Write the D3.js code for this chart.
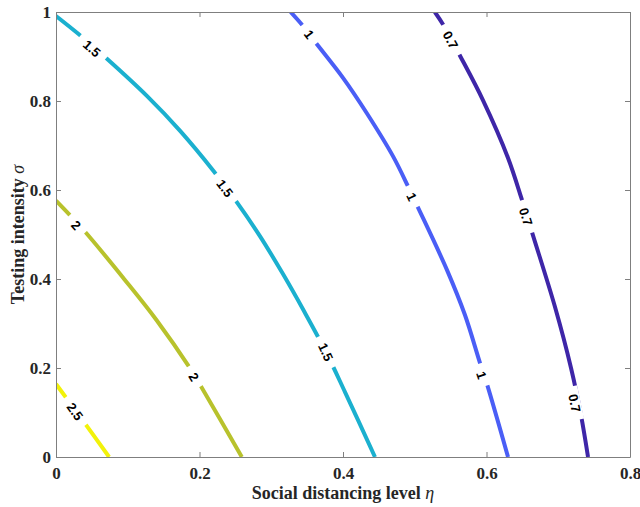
<!DOCTYPE html>
<meta charset="utf-8">
<head>
<style>
  body { margin: 0; background: white; }
  .tick text { font-family: "Liberation Serif", "Times New Roman", serif; font-weight: bold; font-size: 17px; fill: #262626; }
  .axis path, .axis line { stroke: #7f7f7f; }
  .clabel { font-family: "Liberation Sans", Arial, sans-serif; font-weight: bold; font-size: 13px; fill: #000; }
  .axlabel { font-family: "Liberation Serif", "Times New Roman", serif; font-weight: bold; font-size: 18px; fill: #262626; }
</style>
<script src="https://cdn.jsdelivr.net/npm/d3@7"></script>
</head>
<body>
<svg id="chart"></svg>
<script>

// contour levels and their colours (parula-like)
let levels = ["0.7", "1", "1.5", "2", "2.5"]
let colors = ["#3e26a8", "#4a5ef6", "#1bb0cf", "#b8c22c", "#f2f20a"]

// [eta, sigma] points
let contour07 = [[0.528, 1.0], [0.539, 0.973], [0.564, 0.899], [0.595, 0.802], [0.630, 0.672],
                 [0.649, 0.580], [0.665, 0.497], [0.6955, 0.337], [0.7178, 0.200], [0.7317, 0.094], [0.7415, 0]]
let contour10 = [[0.327, 1.0], [0.344, 0.969], [0.361, 0.933], [0.400, 0.852], [0.433, 0.773],
                 [0.470, 0.675], [0.491, 0.607], [0.503, 0.566], [0.545, 0.420], [0.570, 0.319],
                 [0.591, 0.211], [0.601, 0.162], [0.630, 0]]
let contour15 = [[0, 0.991], [0.031, 0.951], [0.071, 0.895], [0.127, 0.811], [0.173, 0.733],
                 [0.219, 0.644], [0.251, 0.575], [0.284, 0.497], [0.3164, 0.411], [0.3456, 0.328],
                 [0.3763, 0.236], [0.4028, 0.146], [0.4446, 0]]
let contour20 = [[0, 0.576], [0.039, 0.509], [0.096, 0.398], [0.140, 0.308], [0.187, 0.199],
                 [0.201, 0.162], [0.259, 0]]
let contour25 = [[0, 0.164], [0.037, 0.083], [0.074, 0]]

// where the inline labels sit, [eta, sigma]
let labels07 = [[0.550, 0.937], [0.655, 0.540], [0.723, 0.121]]
let labels10 = [[0.353, 0.950], [0.496, 0.585], [0.593, 0.184]]
let labels15 = [[0.050, 0.918], [0.2355, 0.604], [0.376, 0.236]]
let labels20 = [[0.028, 0.521], [0.192, 0.180]]
let labels25 = [[0.0265, 0.102]]

let xTicks = [0, 0.2, 0.4, 0.6, 0.8]
let xTickLabels = ["0", "0.2", "0.4", "0.6", "0.8"]
let yTicks = [0, 0.2, 0.4, 0.6, 0.8, 1]
let yTickLabels = ["0", "0.2", "0.4", "0.6", "0.8", "1"]

let contours = [contour07, contour10, contour15, contour20, contour25]
let contourLabels = [labels07, labels10, labels15, labels20, labels25]

let width = 640, height = 507
let margin = {top: 12, right: 10, bottom: 50, left: 56}
let bodyWidth = width - margin.left - margin.right
let bodyHeight = height - margin.top - margin.bottom

let svg = d3.select("#chart").attr("width", width).attr("height", height)

let xScale = d3.scaleLinear().domain([0, 0.8]).range([0, bodyWidth])
let yScale = d3.scaleLinear().domain([0, 1]).range([bodyHeight, 0])

let body = svg.append("g").attr("transform", `translate(${margin.left},${margin.top})`)

svg.append("defs").append("clipPath").attr("id", "clip")
  .append("rect").attr("width", bodyWidth).attr("height", bodyHeight)

let line = d3.line()
  .x(d => xScale(d[0]))
  .y(d => yScale(d[1]))
  .curve(d3.curveCatmullRom.alpha(0.5))

let plot = body.append("g").attr("clip-path", "url(#clip)")

contours.forEach((pts, i) => {
  plot.append("path")
    .attr("d", line(pts))
    .attr("fill", "none")
    .attr("stroke", colors[i])
    .attr("stroke-width", 4)
})

// inline labels: white box cuts the line, text follows the line direction
function angleAt(pts, p) {
  let px = xScale(p[0]), py = yScale(p[1])
  let best = 0, bestD = Infinity
  for (let k = 0; k < pts.length - 1; k++) {
    let mx = (xScale(pts[k][0]) + xScale(pts[k + 1][0])) / 2
    let my = (yScale(pts[k][1]) + yScale(pts[k + 1][1])) / 2
    let dd = (mx - px) ** 2 + (my - py) ** 2
    if (dd < bestD) { bestD = dd; best = k }
  }
  let dx = xScale(pts[best + 1][0]) - xScale(pts[best][0])
  let dy = yScale(pts[best + 1][1]) - yScale(pts[best][1])
  return Math.atan2(dy, dx) * 180 / Math.PI
}

contourLabels.forEach((labs, i) => {
  labs.forEach(p => {
    let a = angleAt(contours[i], p)
    let g = plot.append("g")
      .attr("transform", `translate(${xScale(p[0])},${yScale(p[1])}) rotate(${a})`)
    let rect = g.append("rect").attr("fill", "white")
    let t = g.append("text")
      .attr("class", "clabel")
      .attr("text-anchor", "middle")
      .attr("dy", "0.36em")
      .text(levels[i])
    let w = t.node().getComputedTextLength() + 16
    rect.attr("x", -w / 2).attr("y", -6).attr("width", w).attr("height", 12)
  })
})

// axes, ticks pointing inward on all four sides
body.append("g").attr("class", "axis")
  .attr("transform", `translate(0,${bodyHeight})`)
  .call(d3.axisBottom(xScale).tickValues(xTicks).tickFormat((d, i) => xTickLabels[i])
    .tickSizeInner(-5).tickSizeOuter(0).tickPadding(10))

body.append("g").attr("class", "axis")
  .call(d3.axisLeft(yScale).tickValues(yTicks).tickFormat((d, i) => yTickLabels[i])
    .tickSizeInner(-5).tickSizeOuter(0).tickPadding(5))

body.append("g").attr("class", "axis")
  .call(d3.axisTop(xScale).tickValues(xTicks).tickFormat("")
    .tickSizeInner(-5).tickSizeOuter(0))

body.append("g").attr("class", "axis")
  .attr("transform", `translate(${bodyWidth},0)`)
  .call(d3.axisRight(yScale).tickValues(yTicks).tickFormat("")
    .tickSizeInner(-5).tickSizeOuter(0))

let xl = svg.append("text").attr("class", "axlabel")
  .attr("x", margin.left + bodyWidth / 2).attr("y", 499)
  .attr("text-anchor", "middle")
xl.append("tspan").text("Social distancing level ")
xl.append("tspan").attr("font-style", "italic").attr("font-weight", "normal").text("η")

let yl = svg.append("text").attr("class", "axlabel")
  .attr("transform", `translate(24,${margin.top + bodyHeight / 2}) rotate(-90)`)
  .attr("text-anchor", "middle")
yl.append("tspan").text("Testing intensity ")
yl.append("tspan").attr("font-style", "italic").attr("font-weight", "normal").text("σ")

</script>
</body>
